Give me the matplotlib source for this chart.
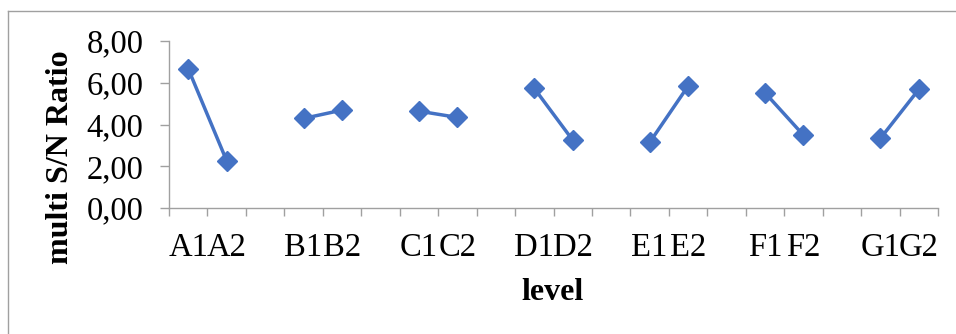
import numpy as np
import matplotlib
matplotlib.use("Agg")
import matplotlib.pyplot as plt
from matplotlib.lines import Line2D

# factor levels and their multi S/N ratio
factors = ["A", "B", "C", "D", "E", "F", "G"]
level1 = [6.67, 4.29, 4.64, 5.73, 3.14, 5.52, 3.33]
level2 = [2.26, 4.69, 4.34, 3.25, 5.84, 3.49, 5.68]
yticks = [0, 2, 4, 6, 8]

# build the Excel-like category axis: pair of levels, then an empty slot
labels = []
values = []
for i, f in enumerate(factors):
    labels += [f + "1", f + "2"]
    values += [level1[i], level2[i]]
    if i < len(factors) - 1:
        labels.append("")
        values.append(np.nan)
x = np.arange(len(labels))

plt.rcParams["font.family"] = ["Liberation Serif", "DejaVu Serif"]

fig = plt.figure(figsize=(9.56, 3.34), dpi=100)
ax = fig.add_axes([169 / 956, 1 - 208 / 334, (938 - 169) / 956, (208 - 41) / 334])

ax.plot(x, values, color="#4472C4", linewidth=2.5, marker="D", markersize=10)

ax.set_xlim(-0.5, len(labels) - 0.5)
ax.set_ylim(0, 8)
ax.set_yticks(yticks)
ax.set_yticklabels([f"{v:.2f}".replace(".", ",") for v in yticks], fontsize=23.5)
ax.set_xticks(x)
ax.set_xticklabels(labels, fontsize=23.5)
ax.set_xticks(np.arange(len(labels) + 1) - 0.5, minor=True)

grey = "#A0A0A0"
ax.tick_params(axis="x", which="major", length=0, pad=18)
ax.tick_params(axis="x", which="minor", length=6, width=1, color=grey, direction="out")
ax.tick_params(axis="y", length=6.5, width=1, color=grey, pad=12)
for s in ["top", "right"]:
    ax.spines[s].set_visible(False)
for s in ["left", "bottom"]:
    ax.spines[s].set_color(grey)
    ax.spines[s].set_linewidth(1)

fig.text(553 / 956, 1 - 292 / 334, "level", fontsize=23, fontweight="bold",
         ha="center", va="center")
fig.text(60 / 956, 1 - 157 / 334, "multi S/N Ratio", fontsize=23, fontweight="bold",
         ha="center", va="center", rotation=90)

# outer chart border (cut by the image edge on right and bottom)
bx, by = 7.5 / 956, 1 - 10.5 / 334
fig.add_artist(Line2D([bx, 1.01], [by, by], color=grey, linewidth=1, transform=fig.transFigure))
fig.add_artist(Line2D([bx, bx], [by, -0.01], color=grey, linewidth=1, transform=fig.transFigure))

fig.savefig("out.png", dpi=100)
